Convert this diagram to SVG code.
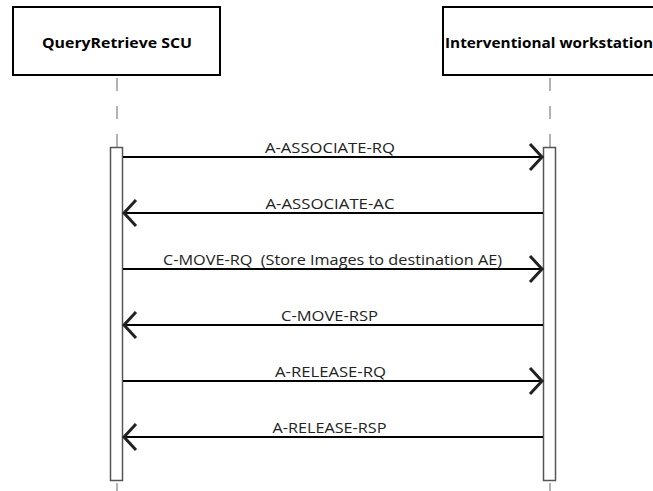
<svg xmlns="http://www.w3.org/2000/svg" width="653" height="491" viewBox="0 0 653 491">
  <style>
    .box { fill: #ffffff; stroke: #000000; stroke-width: 2; }
    .title { font-family: "Open Sans", "Noto Sans", sans-serif; font-weight: bold; font-size: 15px; fill: #000; text-anchor: middle; }
    .life { stroke: #999999; stroke-width: 1.5; stroke-dasharray: 13 15; fill: none; }
    .act { fill: #ffffff; stroke: #555555; stroke-width: 1.5; }
    .msg { stroke: #000000; stroke-width: 2; fill: none; }
    .head { stroke: #222222; stroke-width: 3; fill: none; stroke-linejoin: miter; }
    .lbl { font-family: "Open Sans", "Noto Sans", sans-serif; font-size: 14px; fill: #222; text-anchor: middle; }
  </style>
  <rect width="653" height="491" fill="#ffffff"/>
  <g id="querySCU">
    <line class="life" x1="117" y1="78" x2="117" y2="147"/>
    <line class="life" x1="117" y1="483" x2="117" y2="491" style="stroke-dasharray:none"/>
    <rect class="box" x="13" y="7" width="207" height="68"/>
    <text class="title" x="117" y="48" textLength="150" lengthAdjust="spacingAndGlyphs">QueryRetrieve SCU</text>
    <rect class="act" x="110.5" y="147.5" width="12" height="333"/>
  </g>
  <g id="workstation">
    <line class="life" x1="550" y1="78" x2="550" y2="147"/>
    <line class="life" x1="550" y1="483" x2="550" y2="491" style="stroke-dasharray:none"/>
    <rect class="box" x="443" y="7" width="215" height="68"/>
    <text class="title" x="549" y="48" textLength="208" lengthAdjust="spacingAndGlyphs">Interventional workstation</text>
    <rect class="act" x="543.5" y="147.5" width="12" height="333"/>
  </g>
  <g id="connectors">
    <line class="msg" x1="123" y1="157" x2="542" y2="157"/>
    <polyline class="head" points="530,144 542,157 530,170"/>
    <text class="lbl" x="330" y="152.5" textLength="130" lengthAdjust="spacingAndGlyphs">A-ASSOCIATE-RQ</text>

    <line class="msg" x1="124" y1="213" x2="543" y2="213"/>
    <polyline class="head" points="136,200 124,213 136,226"/>
    <text class="lbl" x="330" y="208.5" textLength="129" lengthAdjust="spacingAndGlyphs">A-ASSOCIATE-AC</text>

    <line class="msg" x1="123" y1="269" x2="542" y2="269"/>
    <polyline class="head" points="530,256 542,269 530,282"/>
    <text class="lbl" x="332.5" y="264.5" textLength="339" lengthAdjust="spacingAndGlyphs" xml:space="preserve">C-MOVE-RQ  (Store Images to destination AE)</text>

    <line class="msg" x1="124" y1="325" x2="543" y2="325"/>
    <polyline class="head" points="136,312 124,325 136,338"/>
    <text class="lbl" x="329.5" y="320.5" textLength="97" lengthAdjust="spacingAndGlyphs">C-MOVE-RSP</text>

    <line class="msg" x1="123" y1="381" x2="542" y2="381"/>
    <polyline class="head" points="530,368 542,381 530,394"/>
    <text class="lbl" x="330.5" y="376.5" textLength="111" lengthAdjust="spacingAndGlyphs">A-RELEASE-RQ</text>

    <line class="msg" x1="124" y1="437" x2="543" y2="437"/>
    <polyline class="head" points="136,424 124,437 136,450"/>
    <text class="lbl" x="329.5" y="432.5" textLength="114" lengthAdjust="spacingAndGlyphs">A-RELEASE-RSP</text>
  </g>
</svg>
